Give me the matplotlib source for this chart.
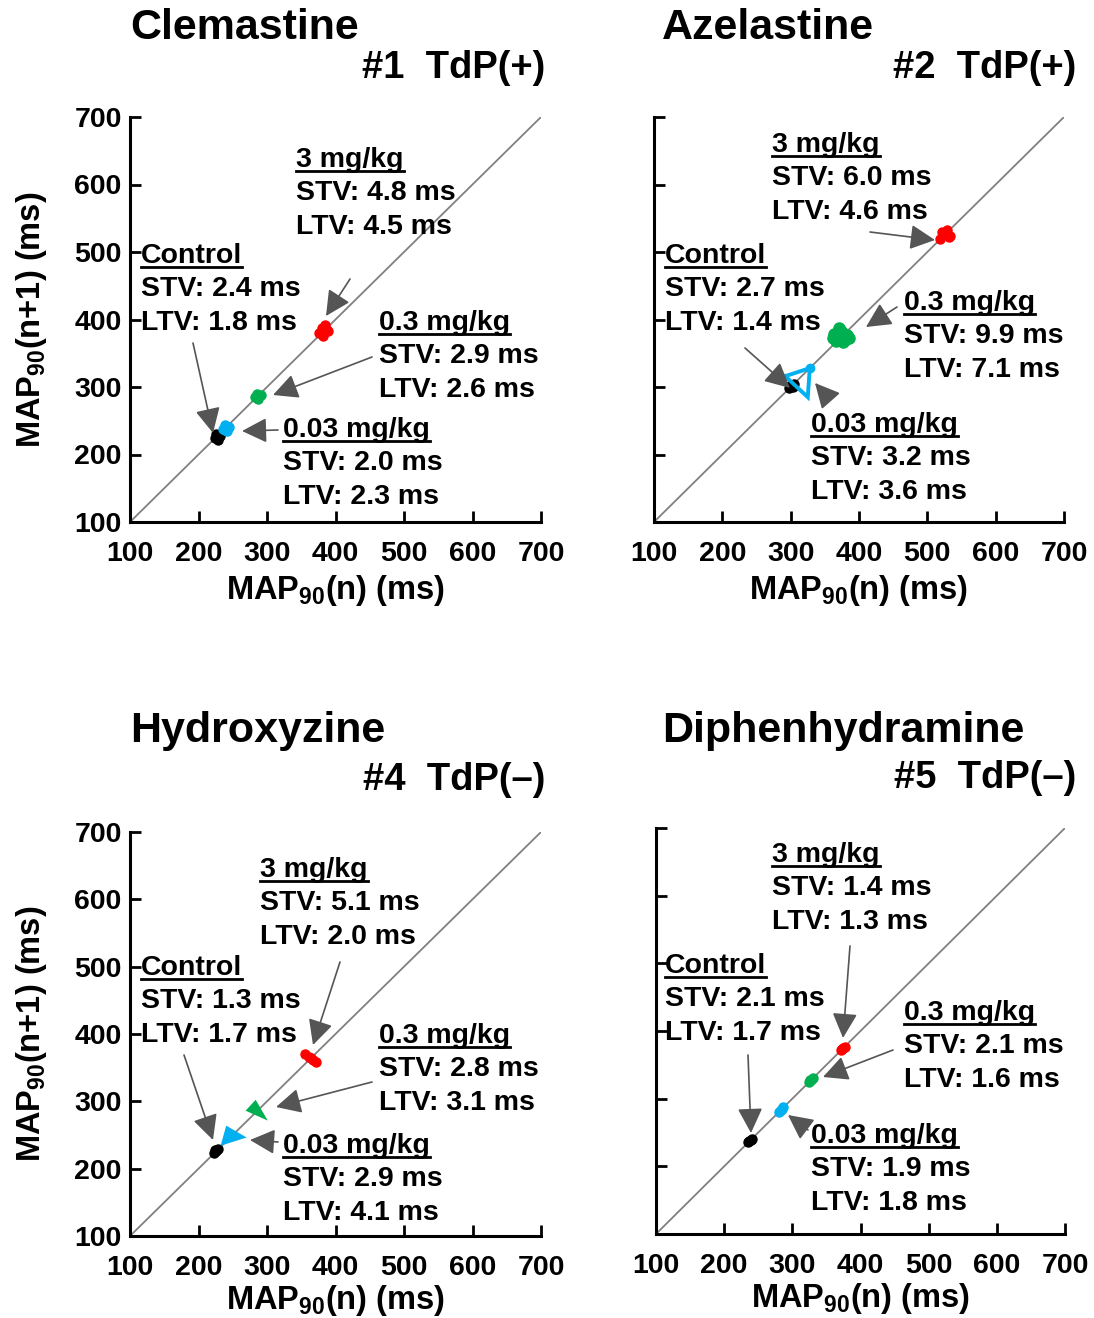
import matplotlib
matplotlib.use("Agg")
import matplotlib.pyplot as plt
from matplotlib.lines import Line2D

plt.rcParams['font.family'] = ['Liberation Sans', 'DejaVu Sans']
plt.rcParams['font.weight'] = 'bold'
plt.rcParams['mathtext.fontset'] = 'custom'
plt.rcParams['mathtext.rm'] = 'Liberation Sans:bold'
plt.rcParams['mathtext.bf'] = 'Liberation Sans:bold'
plt.rcParams['mathtext.it'] = 'Liberation Sans:bold'

# ---------------- data ----------------
drugs = ["Clemastine", "Azelastine", "Hydroxyzine", "Diphenhydramine"]
tags = ["#1  TdP(+)", "#2  TdP(+)", "#4  TdP(\u2013)", "#5  TdP(\u2013)"]
doses = ["Control", "0.03 mg/kg", "0.3 mg/kg", "3 mg/kg"]
dose_colors = ["#000000", "#00B0F0", "#00B050", "#FF0000"]

stv = [[2.4, 2.0, 2.9, 4.8],
       [2.7, 3.2, 9.9, 6.0],
       [1.3, 2.9, 2.8, 5.1],
       [2.1, 1.9, 2.1, 1.4]]
ltv = [[1.8, 2.3, 2.6, 4.5],
       [1.4, 3.6, 7.1, 4.6],
       [1.7, 4.1, 3.1, 2.0],
       [1.7, 1.8, 1.6, 1.3]]

# Poincare clusters: MAP90(n) and MAP90(n+1) values (ms), per drug, per dose
map_n = [
    [[224, 228, 231, 226, 229, 227],
     [236, 241, 244, 239, 243, 238],
     [282, 287, 291, 285, 289, 286],
     [376, 382, 389, 385, 380, 387, 383]],
    [[298, 302, 305, 300, 303],
     [292, 328, 325, 292],
     [362, 368, 378, 385, 372, 366, 380, 375, 370, 383, 376, 364],
     [519, 525, 533, 529, 522, 531, 527]],
    [[222, 226, 228, 224],
     [242, 264, 236, 242],
     [273, 295, 283, 273],
     [355, 361, 367, 372, 364]],
    [[235, 239, 241, 237],
     [281, 285, 287, 283],
     [324, 328, 330, 326],
     [371, 375, 377, 373]],
]
map_n1 = [
    [[225, 222, 228, 230, 224, 227],
     [238, 235, 241, 243, 240, 237],
     [285, 282, 288, 290, 287, 284],
     [380, 376, 383, 392, 388, 385, 381]],
    [[298, 301, 304, 303, 300],
     [316, 328, 285, 316],
     [372, 380, 376, 372, 385, 368, 370, 382, 388, 377, 366, 378],
     [520, 527, 524, 532, 530, 522, 526]],
    [[223, 226, 229, 227],
     [260, 247, 238, 260],
     [287, 277, 298, 287],
     [370, 366, 361, 358, 364]],
    [[236, 239, 241, 238],
     [281, 284, 287, 283],
     [325, 328, 331, 327],
     [372, 375, 377, 374]],
]

ticks = [100, 200, 300, 400, 500, 600, 700]

# ---------------- layout ----------------
W, H = 1094, 1318
fig = plt.figure(figsize=(W / 100, H / 100), dpi=100)

axes_px = [(130, 117, 541, 522), (654, 117, 1064, 522),
           (130, 832, 541, 1236), (656, 828, 1065, 1234)]
title_px = [(130, 28), (662, 28), (130, 731), (662, 731)]
tag_px = [(545, 68), (1076, 68), (545, 780), (1076, 778)]

# text block positions (left px, center y px of first line) per panel, per dose
text_px = [
    [(141, 256), (283, 430), (379, 323), (296, 160)],
    [(665, 256), (811, 425), (904, 303), (772, 145)],
    [(141, 968), (283, 1146), (379, 1036), (260, 870)],
    [(665, 966), (811, 1136), (904, 1013), (772, 855)],
]
# arrows (tail px, head px) per panel, per dose
arrow_px = [
    [((193, 343), (213, 433)), ((278, 430), (242, 431)), ((372, 357), (273, 395)), ((350, 279), (326, 316))],
    [((745, 348), (790, 388)), ((830, 400), (815, 383)), ((897, 307), (866, 327)), ((870, 232), (935, 240))],
    [((184, 1055), (213, 1140)), ((278, 1142), (250, 1140)), ((372, 1082), (276, 1107)), ((340, 962), (313, 1045))],
    [((748, 1055), (751, 1133)), ((808, 1130), (788, 1115)), ((893, 1050), (823, 1077)), ((850, 946), (843, 1038))],
]

def fp(px, py):
    return (px / W, 1 - py / H)

FS = 20.5
underlined = []

for i in range(4):
    x0, y0, x1, y1 = axes_px[i]
    ax = fig.add_axes([x0 / W, 1 - y1 / H, (x1 - x0) / W, (y1 - y0) / H])
    ax.set_xlim(100, 700)
    ax.set_ylim(100, 700)
    ax.plot([100, 700], [100, 700], color="#808080", lw=1.3, zorder=1)
    for j in range(4):
        xs, ys = map_n[i][j], map_n1[i][j]
        c = dose_colors[j]
        if i == 1 and j == 1:
            ax.plot(xs, ys, color=c, lw=2.8, zorder=3, solid_joinstyle='miter')
            ax.plot(xs[1:2], ys[1:2], 'o', color=c, ms=6, zorder=3)
        elif i == 2 and j in (1, 2):
            ax.fill(xs, ys, color=c, zorder=3, lw=2.5, ec=c)
        elif i == 1 and j == 2:
            ax.fill(xs, ys, color=c, zorder=3, lw=3, ec=c)
            ax.plot(xs, ys, 'o', color=c, ms=8, zorder=3)
        else:
            ax.plot(xs, ys, 'o-', color=c, ms=6.5, lw=3, mec=c, zorder=3)
    for s in ['top', 'right']:
        ax.spines[s].set_visible(False)
    for s in ['left', 'bottom']:
        ax.spines[s].set_linewidth(2.2)
    ax.set_xticks(ticks)
    ax.set_yticks(ticks)
    ax.tick_params(direction='in', length=8, width=2, labelsize=FS, pad=6)
    ax.tick_params(axis='x', pad=14)
    for lab in ax.get_xticklabels() + ax.get_yticklabels():
        lab.set_fontweight('bold')
    if i % 2 == 1:
        ax.set_yticklabels([])
    else:
        ax.set_ylabel(r'MAP$_{\mathbf{90}}$(n+1) (ms)', fontsize=23.5, fontweight='bold', labelpad=18)
    ax.set_xlabel(r'MAP$_{\mathbf{90}}$(n) (ms)', fontsize=23.5, fontweight='bold',
                  labelpad=4 if i < 2 else 1)

    # titles
    fig.text(*fp(*title_px[i]), drugs[i], fontsize=31, fontweight='bold', ha='left', va='center')
    fig.text(*fp(*tag_px[i]), tags[i], fontsize=27.5, fontweight='bold', ha='right', va='center')

    for j in range(4):
        tx, ty = text_px[i][j]
        t = fig.text(*fp(tx, ty), doses[j], fontsize=FS, fontweight='bold', ha='left', va='center')
        underlined.append(t)
        fig.text(*fp(tx, ty + 33), f"STV: {stv[i][j]:.1f} ms", fontsize=FS, fontweight='bold', ha='left', va='center')
        fig.text(*fp(tx, ty + 67), f"LTV: {ltv[i][j]:.1f} ms", fontsize=FS, fontweight='bold', ha='left', va='center')
        (ax_, ay_), (hx, hy) = arrow_px[i][j]
        fig.add_artist(matplotlib.patches.FancyArrowPatch(
            fp(ax_, ay_), fp(hx, hy), transform=fig.transFigure,
            arrowstyle='-|>,head_length=0.7,head_width=0.35', mutation_scale=22,
            color='#555555', lw=1.2, shrinkA=0, shrinkB=0))

fig.canvas.draw()
r = fig.canvas.get_renderer()
inv = fig.transFigure.inverted()
for t in underlined:
    bb = t.get_window_extent(r)
    yline = bb.y0 + 2
    (a, b) = inv.transform((bb.x0, yline))
    (c, d) = inv.transform((bb.x1, yline))
    fig.add_artist(Line2D([a, c], [b, d], transform=fig.transFigure, color='black', lw=2.0))

fig.savefig("out.png", dpi=100)
